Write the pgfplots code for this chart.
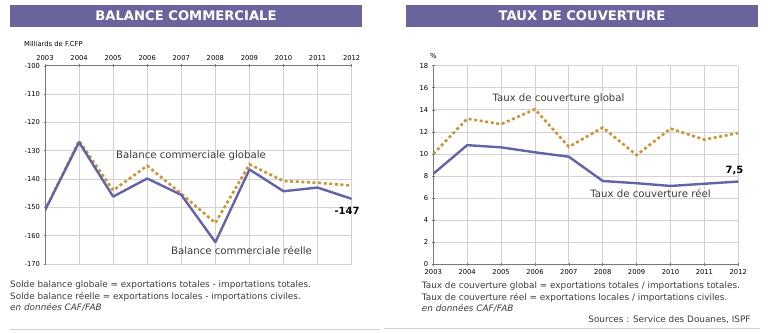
\documentclass[border=0pt]{standalone}
\usepackage{pgfplots}
\pgfplotsset{compat=1.18}
\usepackage{fontspec}
\setmainfont{DejaVu Sans}
\definecolor{hdr}{RGB}{106,100,158}
\definecolor{reel}{RGB}{98,100,166}
\definecolor{glob}{RGB}{200,150,60}
\definecolor{gridc}{RGB}{210,210,210}
\definecolor{axc}{RGB}{120,120,120}
\definecolor{txt}{RGB}{60,60,60}
\pgfplotsset{
  common/.style={
    scale only axis,
    xmin=2003, xmax=2012,
    xtick={2003,...,2012},
    grid=major,
    major grid style={gridc, line width=0.8pt},
    axis line style={axc, line width=0.8pt},
    tick style={axc, line width=0.6pt},
    major tick length=3bp,
    tick align=center,
    ticklabel style={font=\fontsize{6.8}{7}\selectfont, text=black},
    /pgf/number format/assume math mode=true,
    /pgf/number format/1000 sep={},
    axis background/.style={fill=white},
  },
  reelst/.style={reel, line width=2.4pt, line join=round},
  globst/.style={glob, line width=2.6pt, dash pattern=on 3bp off 2.6bp},
}
\begin{document}
\begin{tikzpicture}[x=1bp,y=1bp]
\useasboundingbox (0,0) rectangle (768,333);
% headers
\fill[hdr] (10,306) rectangle (362,328);
\node[text=white, font=\fontsize{13.2}{14}\selectfont\bfseries] at (186,317) {BALANCE COMMERCIALE};
\fill[hdr] (406,306) rectangle (758,328);
\node[text=white, font=\fontsize{13.2}{14}\selectfont\bfseries] at (582,317) {TAUX DE COUVERTURE};
% left axis
\begin{axis}[common,
  at={(45bp,69bp)}, anchor=south west,
  width=306.7bp, height=198.2bp,
  ymin=-170, ymax=-100, ytick={-170,-160,...,-100},
  axis x line=top, axis y line=left,
  x axis line style={-}, y axis line style={-},
  xticklabel pos=top,
]
\addplot[globst] coordinates {(2003,-151) (2004,-126.5) (2005,-144) (2006,-135.3) (2007,-145.2) (2008,-155.5) (2009,-134.8) (2010,-140.7) (2011,-141.3) (2012,-142.3)};
\addplot[reelst] coordinates {(2003,-151) (2004,-127) (2005,-146.2) (2006,-139.8) (2007,-145.6) (2008,-162.3) (2009,-136.6) (2010,-144.3) (2011,-143) (2012,-147)};
\end{axis}
\node[anchor=west, inner sep=0, font=\fontsize{6.8}{7}\selectfont, text=black] at (24,289) {Milliards de F.CFP};
\node[text=txt, font=\fontsize{10.2}{12}\selectfont] at (191,177.3) {Balance commerciale globale};
\node[text=txt, font=\fontsize{10.2}{12}\selectfont] at (241.5,82.3) {Balance commerciale réelle};
\node[text=black, font=\fontsize{10}{12}\selectfont\bfseries] at (347,122) {-147};
% left notes
\begin{scope}[font=\fontsize{8.9}{9}\selectfont, text=txt]
\node[anchor=base west, inner sep=0] at (10,45.5) {Solde balance globale = exportations totales - importations totales.};
\node[anchor=base west, inner sep=0] at (10,33.5) {Solde balance réelle = exportations locales - importations civiles.};
\node[anchor=base west, inner sep=0] at (10,22.5) {\itshape en données CAF/FAB};
\end{scope}
\draw[gridc, line width=1pt] (10,4) -- (380,4);
% right axis
\begin{axis}[common,
  at={(433.3bp,68.7bp)}, anchor=south west,
  width=305bp, height=198.6bp,
  ymin=0, ymax=18, ytick={0,2,...,18},
  axis x line=bottom, axis y line=left,
  x axis line style={-}, y axis line style={-},
]
\addplot[globst] coordinates {(2003,10) (2004,13.2) (2005,12.7) (2006,14.05) (2007,10.65) (2008,12.4) (2009,9.9) (2010,12.3) (2011,11.3) (2012,11.9)};
\addplot[reelst] coordinates {(2003,8.2) (2004,10.8) (2005,10.6) (2006,10.15) (2007,9.75) (2008,7.55) (2009,7.35) (2010,7.1) (2011,7.3) (2012,7.5)};
\end{axis}
\node[anchor=west, inner sep=0, font=\fontsize{6.8}{7}\selectfont, text=black] at (430,277) {\%};
\node[text=txt, font=\fontsize{10.2}{12}\selectfont] at (558.5,234) {Taux de couverture global};
\node[text=txt, font=\fontsize{10.2}{12}\selectfont] at (650.5,139) {Taux de couverture réel};
\node[text=black, font=\fontsize{10}{12}\selectfont\bfseries] at (734.5,162) {7,5};
\begin{scope}[font=\fontsize{8.9}{9}\selectfont, text=txt]
\node[anchor=base west, inner sep=0] at (421.7,45) {Taux de couverture global = exportations totales / importations totales.};
\node[anchor=base west, inner sep=0] at (421.7,33) {Taux de couverture réel = exportations locales / importations civiles.};
\node[anchor=base west, inner sep=0] at (421.7,21.5) {\itshape en données CAF/FAB};
\node[anchor=base east, inner sep=0] at (750.7,11) {Sources : Service des Douanes, ISPF};
\end{scope}
\draw[gridc, line width=1pt] (384,5) -- (760,5);
\end{tikzpicture}
\end{document}
